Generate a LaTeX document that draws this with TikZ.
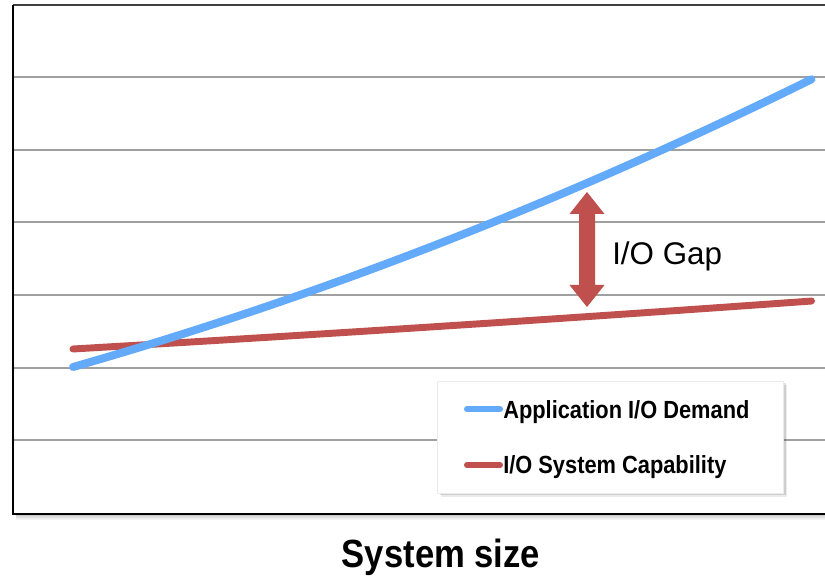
\documentclass[tikz,border=0pt]{standalone}
\usepackage{fontspec}
\setmainfont{Liberation Sans}
\newfontfamily\condbold[FakeStretch=0.88]{Liberation Sans}
\definecolor{demand}{RGB}{99,170,250}
\definecolor{capab}{RGB}{192,80,77}
\definecolor{gridc}{RGB}{160,160,160}
\tikzset{
  gridline/.style={gridc, line width=1.1pt},
  series/.style={line width=#1, line cap=round},
  legendtext/.style={anchor=base west, inner sep=0pt,
    font=\condbold\bfseries\fontsize{18.6}{21}\selectfont},
}
\begin{document}
\begin{tikzpicture}[x=0.75pt,y=-0.75pt]
\useasboundingbox (0,0) rectangle (825,580);
\fill[white] (0,0) rectangle (825,580);

% soft shadow under the plot frame
\foreach \o/\a in {2/0.10,4/0.08,6/0.05}
  \fill[black, opacity=\a] (16,514) rectangle (825,514+\o);

% horizontal grid
\foreach \y in {77,150,222,295,368,440}
  \draw[gridline] (13,\y) -- (825,\y);

% frame
\draw[black!75, line width=1.2pt] (13,5) -- (825,5);
\draw[black, line width=1.6pt] (13,5) -- (13,514) -- (825,514);

% data series
\draw[capab, series=5.2pt] plot[domain=0:1, samples=60, variable=\t]
  ({73+739*\t},{349-48*(0.9*\t+0.1*\t*\t)});
\draw[demand, series=6pt] plot[domain=0:1, samples=80, variable=\t]
  ({73+739*\t},{367-288*(0.732*\t+0.268*\t*\t)});

% gap marker
\fill[capab] (587,192) -- (604.5,214) -- (595,214) -- (595,285) -- (604.5,285)
  -- (587,307) -- (569.5,285) -- (579,285) -- (579,214) -- (569.5,214) -- cycle;
\node[anchor=base west, inner sep=0pt, font=\fontsize{23.5}{27}\selectfont]
  (gap) at (612,265) {I/O Gap};

% legend
\foreach \o/\a in {1/0.14,2.5/0.12,4/0.08}
  \fill[black, opacity=\a] (437+\o,381+\o) rectangle (783+\o,493+\o);
\fill[white] (437,381) rectangle (783,493);
\draw[black!8, line width=0.6pt] (437,381) rectangle (783,493);
\draw[demand, series=4.5pt] (467,409) -- (500,409);
\draw[capab, series=4.5pt] (467,465) -- (500,465);
\node[legendtext] (leg1) at (503,419) {Application I/O Demand};
\node[legendtext] (leg2) at (503,474) {I/O System Capability};

% axis title
\node[anchor=base, inner sep=0pt, font=\condbold\bfseries\fontsize{29.5}{33}\selectfont]
  (xlabel) at (441,568) {System size};
\end{tikzpicture}
\end{document}
